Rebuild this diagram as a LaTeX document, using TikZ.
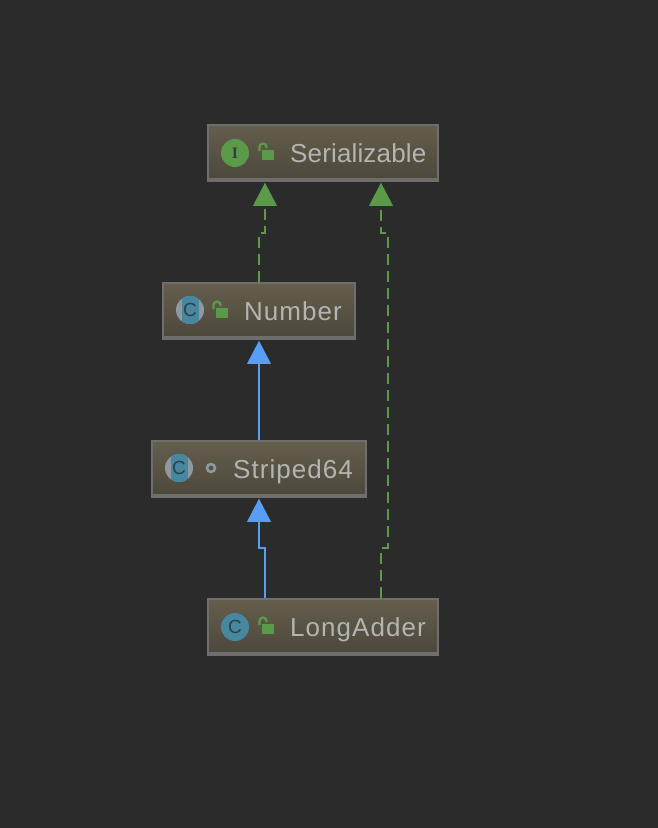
\documentclass[tikz,border=0pt]{standalone}
\usepackage{fontspec}
\setmainfont{Liberation Sans}
\newfontfamily\iconserif{Liberation Serif}
\usepackage{pgf,tikz}
\usetikzlibrary{arrows.meta}
\definecolor{bgdark}{HTML}{2B2B2B}
\definecolor{boxtop}{HTML}{655E4D}
\definecolor{boxbottom}{HTML}{4B473B}
\definecolor{boxedge}{HTML}{6E6E6E}
\definecolor{labelgrey}{HTML}{B4B4B2}
\definecolor{leafgreen}{HTML}{5B9A48}
\definecolor{inkdark}{HTML}{2F3F46}
\definecolor{classteal}{HTML}{45889F}
\definecolor{ringgrey}{HTML}{8F9AA0}
\definecolor{extblue}{HTML}{589DF6}
\tikzset{
 classbox/.style={draw=boxedge,line width=1.5pt,top color=boxtop,bottom color=boxbottom,minimum height=56pt,inner sep=0pt,
  path picture={\fill[boxedge] ([yshift=3.5pt]path picture bounding box.south west) rectangle (path picture bounding box.south east);}},
 classname/.style={anchor=base west,inner sep=0pt,text=labelgrey,font=\fontsize{26}{26}\selectfont\addfontfeature{LetterSpace=#1}},
 classname/.default=4,
 iconc/.style={circle,fill=classteal,minimum size=28pt,inner sep=0pt,text=inkdark,font=\fontsize{19}{19}\selectfont},
 iconi/.style={circle,fill=leafgreen,minimum size=28pt,inner sep=0pt,text=inkdark,font=\fontsize{16}{16}\selectfont\iconserif\bfseries},
 iconabs/.style={circle,fill=ringgrey,minimum size=28pt,inner sep=0pt,text=inkdark,font=\fontsize{19}{19}\selectfont,
  path picture={\fill[classteal] ([xshift=-8.5pt]path picture bounding box.south) rectangle ([xshift=8.5pt]path picture bounding box.north);}},
 iconring/.style={circle,draw=ringgrey,line width=2.5pt,minimum size=8pt,inner sep=0pt},
 implements/.style={draw=leafgreen,line width=2.2pt,dash pattern=on 11pt off 6pt,-{Triangle[width=24pt,length=23pt,fill=leafgreen,line width=0pt]}},
 extends/.style={draw=extblue,line width=2.2pt,-{Triangle[width=24pt,length=23pt,fill=extblue,line width=0pt]}},
 lockbody/.style={fill=leafgreen,draw=none,minimum width=12pt,minimum height=10pt,inner sep=0pt}
}
\newcommand{\openlock}[2]{
 \node[lockbody] (#2) at (#1) {};
 \draw[leafgreen,line width=2.3pt] ([xshift=-8.5pt,yshift=4pt]#2.center) -- ++(0pt,4pt) arc[start angle=180,end angle=0,radius=3.5pt] -- ++(0pt,-1pt);
}
\begin{document}
\begin{tikzpicture}[x=1pt,y=-1pt]
 \fill[bgdark] (0,0) rectangle (658,828);
 \useasboundingbox (0,0) rectangle (658,828);
 % boxes
 \node[classbox,minimum width=230pt] (serializable) at (323,153) {};
 \node[classbox,minimum width=192pt] (number) at (259,311) {};
 \node[classbox,minimum width=214pt] (striped) at (259,469) {};
 \node[classbox,minimum width=230pt] (longadder) at (323,627) {};
 % icons
 \node[iconi] (serializableicon) at (235,153) {I};
 \node[iconabs] (numbericon) at (190,310) {C};
 \node[iconabs] (stripedicon) at (179,468) {C};
 \node[iconc] (longaddericon) at (235,627) {C};
 \openlock{268,155}{serializablelock}
 \openlock{222,313}{numberlock}
 \node[iconring] (stripedring) at (211,468) {};
 \openlock{268,629}{longadderlock}
 % names
 \node[classname=0.6] (serializablename) at (290,162) {Serializable};
 \node[classname] (numbername) at (244,320) {Number};
 \node[classname] (stripedname) at (233,478) {Striped64};
 \node[classname] (longaddername) at (290,636) {LongAdder};
 % bends
 \coordinate (numberbend) at (259,233);
 \coordinate (adderbendlow) at (381,548);
 \coordinate (adderbendhigh) at (388,233);
 \coordinate (stripedbend) at (265,548);
 % connectors
 \draw[implements] (number.north) -- (numberbend) -- ++(6,0) -- ([xshift=-58pt,yshift=-1pt]serializable.south);
 \draw[implements] ([xshift=58pt]longadder.north) -- (adderbendlow) -- ++(7,0) -- (adderbendhigh) -- ++(-7,0) -- ([xshift=58pt,yshift=-1pt]serializable.south);
 \draw[extends] (striped.north) -- ([yshift=-1pt]number.south);
 \draw[extends] ([xshift=-58pt]longadder.north) -- (stripedbend) -- ++(-6,0) -- ([yshift=-1pt]striped.south);
\end{tikzpicture}
\end{document}
